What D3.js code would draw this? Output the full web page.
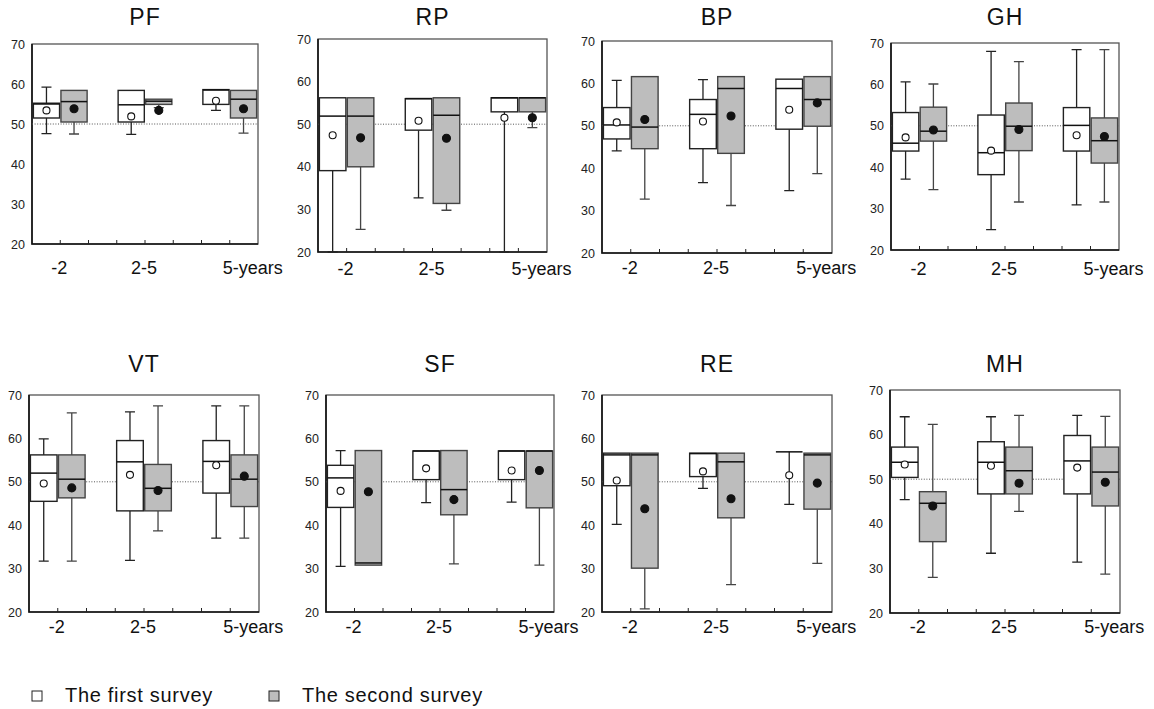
<!DOCTYPE html>
<html>
<head>
<meta charset="utf-8">
<script src="https://cdn.jsdelivr.net/npm/d3@7"></script>
<style>
  body { margin: 0; background: #fff; }
  svg { display: block; font-family: "Liberation Sans", Arial, sans-serif; }
</style>
</head>
<body>
<script>
// box plot stats per scale: [low whisker, q1, median, q3, high whisker, mean]
// order: -2 first, -2 second, 2-5 first, 2-5 second, 5- first, 5- second
var scaleNames = ["PF", "RP", "BP", "GH", "VT", "SF", "RE", "MH"];
var periods = ["-2", "2-5", "5-years"];
var surveys = ["The first survey", "The second survey"];
var yTicks = [20, 30, 40, 50, 60, 70];

var PF = [
  [47.6, 51.5, 55.0, 55.2, 59.2, 53.4],
  [47.5, 50.5, 55.6, 58.4, 58.4, 53.8],
  [47.4, 50.5, 54.8, 58.4, 58.4, 51.9],
  [54.1, 54.9, 55.7, 56.2, 56.2, 53.4],
  [53.4, 54.9, 58.5, 58.6, 58.6, 55.8],
  [47.7, 51.5, 56.2, 58.4, 58.4, 53.8]
];
var RP = [
  [20.0, 39.1, 51.9, 56.2, 56.2, 47.4],
  [25.3, 40.0, 51.9, 56.2, 56.2, 46.8],
  [32.7, 48.6, 56.0, 56.0, 56.0, 50.8],
  [29.8, 31.4, 52.1, 56.2, 56.2, 46.7],
  [20.0, 52.9, 56.2, 56.2, 56.2, 51.5],
  [49.2, 52.9, 56.2, 56.2, 56.2, 51.5]
];
var BP = [
  [44.1, 46.9, 50.2, 54.3, 60.7, 50.8],
  [32.7, 44.6, 49.7, 61.6, 61.6, 51.5],
  [36.6, 44.6, 52.7, 56.2, 60.9, 51.0],
  [31.2, 43.5, 58.8, 61.6, 61.6, 52.3],
  [34.7, 49.2, 58.8, 61.0, 61.0, 53.8],
  [38.7, 49.9, 56.2, 61.6, 61.6, 55.4]
];
var GH = [
  [37.1, 43.9, 45.8, 53.2, 60.6, 47.2],
  [34.6, 46.3, 48.7, 54.5, 60.1, 49.0],
  [24.9, 38.2, 43.5, 52.6, 68.0, 44.0],
  [31.6, 44.0, 49.9, 55.5, 65.5, 49.1],
  [30.9, 43.9, 50.1, 54.4, 68.4, 47.7],
  [31.6, 41.0, 46.4, 51.9, 68.4, 47.4]
];
var VT = [
  [31.7, 45.5, 52.0, 56.2, 59.9, 49.6],
  [31.7, 46.3, 50.6, 56.2, 65.9, 48.6],
  [31.9, 43.3, 54.6, 59.5, 66.1, 51.6],
  [38.7, 43.3, 48.5, 54.0, 67.5, 48.0],
  [37.0, 47.4, 54.7, 59.5, 67.5, 53.8],
  [37.0, 44.3, 50.6, 56.2, 67.5, 51.3]
];
var SF = [
  [30.5, 44.1, 50.9, 53.8, 57.2, 47.9],
  [30.8, 30.8, 31.3, 57.2, 57.2, 47.7],
  [45.2, 50.5, 57.1, 57.1, 57.1, 53.1],
  [31.1, 42.4, 48.2, 57.2, 57.2, 45.9],
  [45.3, 50.5, 57.1, 57.1, 57.1, 52.6],
  [30.8, 44.0, 57.1, 57.1, 57.1, 52.6]
];
var RE = [
  [40.2, 49.1, 56.2, 56.6, 56.6, 50.3],
  [20.7, 30.1, 56.2, 56.6, 56.6, 43.8],
  [48.5, 51.2, 56.5, 56.6, 56.6, 52.4],
  [26.3, 41.7, 54.6, 56.6, 56.6, 46.1],
  [44.8, 56.9, 56.9, 56.9, 56.9, 51.5],
  [31.2, 43.7, 56.2, 56.6, 56.6, 49.7]
];
var MH = [
  [45.4, 50.4, 53.8, 57.2, 64.0, 53.3],
  [28.0, 36.0, 44.6, 47.2, 62.3, 44.0],
  [33.4, 46.7, 53.8, 58.4, 64.0, 53.0],
  [42.8, 46.7, 51.9, 57.2, 64.3, 49.1],
  [31.4, 46.7, 54.1, 59.8, 64.3, 52.6],
  [28.7, 44.0, 51.6, 57.2, 64.1, 49.3]
];
var statsByScale = { PF: PF, RP: RP, BP: BP, GH: GH, VT: VT, SF: SF, RE: RE, MH: MH };

// frame of every panel in the page (left, top, width, height) and the row baselines
var layout = [
  { x: 32,  y: 44,  w: 226, h: 200, titleY: 25,  labelY: 274 },
  { x: 318, y: 39,  w: 229, h: 213, titleY: 25,  labelY: 275 },
  { x: 602, y: 41,  w: 230, h: 212, titleY: 25,  labelY: 274 },
  { x: 891, y: 43,  w: 228, h: 207, titleY: 25,  labelY: 275 },
  { x: 29,  y: 395, w: 230, h: 217, titleY: 372, labelY: 633 },
  { x: 326, y: 395, w: 228, h: 217, titleY: 372, labelY: 633 },
  { x: 602, y: 395, w: 230, h: 217, titleY: 372, labelY: 633 },
  { x: 890, y: 390, w: 230, h: 223, titleY: 372, labelY: 633 }
];

var grayFill = "#bdbdbd";

var svg = d3.select("body")
  .append("svg")
    .attr("width", 1154)
    .attr("height", 709);

scaleNames.forEach(function(name, idx) {
  var L = layout[idx];
  var stats = statsByScale[name];

  // data rows for this panel
  var rows = stats.map(function(s, i) {
    return {
      period: periods[Math.floor(i / 2)],
      survey: i % 2,
      lo: s[0], q1: s[1], med: s[2], q3: s[3], hi: s[4], mean: s[5]
    };
  });

  var g = svg.append("g")
    .attr("transform", "translate(" + L.x + "," + L.y + ")");

  var y = d3.scaleLinear().domain([20, 70]).range([L.h, 0]);

  // two slots per period with one empty slot between periods
  var xGroup = d3.scaleBand()
    .domain(periods)
    .range([0, L.w])
    .paddingInner(1 / 3)
    .paddingOuter(0);

  var xSurvey = d3.scaleBand()
    .domain([0, 1])
    .range([0, xGroup.bandwidth()])
    .padding(0.05);

  // title
  g.append("text")
    .attr("x", L.w / 2)
    .attr("y", L.titleY - L.y)
    .attr("text-anchor", "middle")
    .style("font-size", "23px")
    .style("letter-spacing", "1px")
    .attr("fill", "#111")
    .text(name);

  // y axis labels
  var yAxis = d3.axisLeft(y)
    .tickValues(yTicks)
    .tickSize(0)
    .tickPadding(7);
  var ya = g.append("g").call(yAxis);
  ya.select(".domain").remove();
  ya.selectAll("text")
    .style("font-family", "'Liberation Sans Narrow', 'Liberation Sans', Arial, sans-serif")
    .style("font-size", "12.5px")
    .attr("fill", "#222");

  // frame
  g.append("rect")
    .attr("width", L.w)
    .attr("height", L.h)
    .attr("fill", "none")
    .attr("stroke", "#555")
    .attr("stroke-width", 1.3);
  g.append("path")
    .attr("d", "M0,0V" + L.h + "H" + L.w)
    .attr("fill", "none")
    .attr("stroke", "#111")
    .attr("stroke-width", 1.6);

  // ticks on the bottom edge at every slot boundary
  var tickX = [];
  periods.forEach(function(p) {
    var x0 = xGroup(p);
    [x0, x0 + xGroup.bandwidth() / 2, x0 + xGroup.bandwidth()].forEach(function(v) {
      if (v > 1 && v < L.w - 1) tickX.push(v);
    });
  });
  g.selectAll(".xtick")
    .data(tickX)
    .enter().append("line")
      .attr("class", "xtick")
      .attr("x1", function(d) { return d; })
      .attr("x2", function(d) { return d; })
      .attr("y1", L.h)
      .attr("y2", L.h - 4)
      .attr("stroke", "#222")
      .attr("stroke-width", 1);

  // dotted reference line at 50
  g.append("line")
    .attr("x1", 0)
    .attr("x2", L.w)
    .attr("y1", y(50))
    .attr("y2", y(50))
    .attr("stroke", "#555")
    .attr("stroke-width", 1)
    .attr("stroke-dasharray", "1,1.6");

  // period labels
  g.selectAll(".xlabel")
    .data(periods)
    .enter().append("text")
      .attr("class", "xlabel")
      .attr("x", function(d, i) {
        var c = xGroup(d) + xGroup.bandwidth() / 2;
        return i === periods.length - 1 ? c - 7 : c - 1;
      })
      .attr("y", L.labelY - L.y)
      .attr("text-anchor", function(d, i) { return i === periods.length - 1 ? "start" : "middle"; })
      .style("font-size", "18px")
      .attr("fill", "#111")
      .text(function(d) { return d; });

  // boxes
  var box = g.selectAll(".box")
    .data(rows)
    .enter().append("g")
      .attr("class", "box")
      .attr("transform", function(d) {
        return "translate(" + (xGroup(d.period) + xSurvey(d.survey)) + ",0)";
      });

  var bw = xSurvey.bandwidth();
  var cx = bw / 2;
  var capW = 10;

  // whiskers
  box.filter(function(d) { return d.hi > d.q3; })
    .append("path")
      .attr("d", function(d) {
        return "M" + cx + "," + y(d.q3) + "V" + y(d.hi) +
          "M" + (cx - capW / 2) + "," + y(d.hi) + "H" + (cx + capW / 2);
      })
      .attr("fill", "none")
      .attr("stroke", function(d) { return d.survey ? "#444" : "#222"; })
      .attr("stroke-width", 1.3);

  box.filter(function(d) { return d.lo < d.q1; })
    .append("path")
      .attr("d", function(d) {
        return "M" + cx + "," + y(d.q1) + "V" + y(d.lo) +
          "M" + (cx - capW / 2) + "," + y(d.lo) + "H" + (cx + capW / 2);
      })
      .attr("fill", "none")
      .attr("stroke", function(d) { return d.survey ? "#444" : "#222"; })
      .attr("stroke-width", 1.3);

  box.append("rect")
    .attr("x", 0)
    .attr("width", bw)
    .attr("y", function(d) { return y(d.q3); })
    .attr("height", function(d) { return y(d.q1) - y(d.q3); })
    .attr("fill", function(d) { return d.survey ? grayFill : "#fff"; })
    .attr("stroke", function(d) { return d.survey ? "#444" : "#222"; })
    .attr("stroke-width", 1.4);

  // median
  box.append("line")
    .attr("x1", 0)
    .attr("x2", bw)
    .attr("y1", function(d) { return y(d.med); })
    .attr("y2", function(d) { return y(d.med); })
    .attr("stroke", "#111")
    .attr("stroke-width", 1.5);

  // mean marker
  box.append("circle")
    .attr("cx", cx)
    .attr("cy", function(d) { return y(d.mean); })
    .attr("r", function(d) { return d.survey ? 4 : 3.5; })
    .attr("fill", function(d) { return d.survey ? "#111" : "#fff"; })
    .attr("stroke", "#111")
    .attr("stroke-width", 1.1);
});

// legend
var legend = svg.selectAll(".legend")
  .data(surveys)
  .enter().append("g")
    .attr("class", "legend")
    .attr("transform", function(d, i) { return "translate(" + (i === 0 ? 32 : 269) + ",691)"; });

legend.append("rect")
  .attr("width", 10)
  .attr("height", 10)
  .attr("fill", function(d, i) { return i ? grayFill : "#fff"; })
  .attr("stroke", "#222")
  .attr("stroke-width", 1);

legend.append("text")
  .attr("x", 33)
  .attr("y", 11)
  .style("font-size", "20px")
  .style("letter-spacing", "0.7px")
  .attr("fill", "#111")
  .text(function(d) { return d; });
</script>
</body>
</html>
